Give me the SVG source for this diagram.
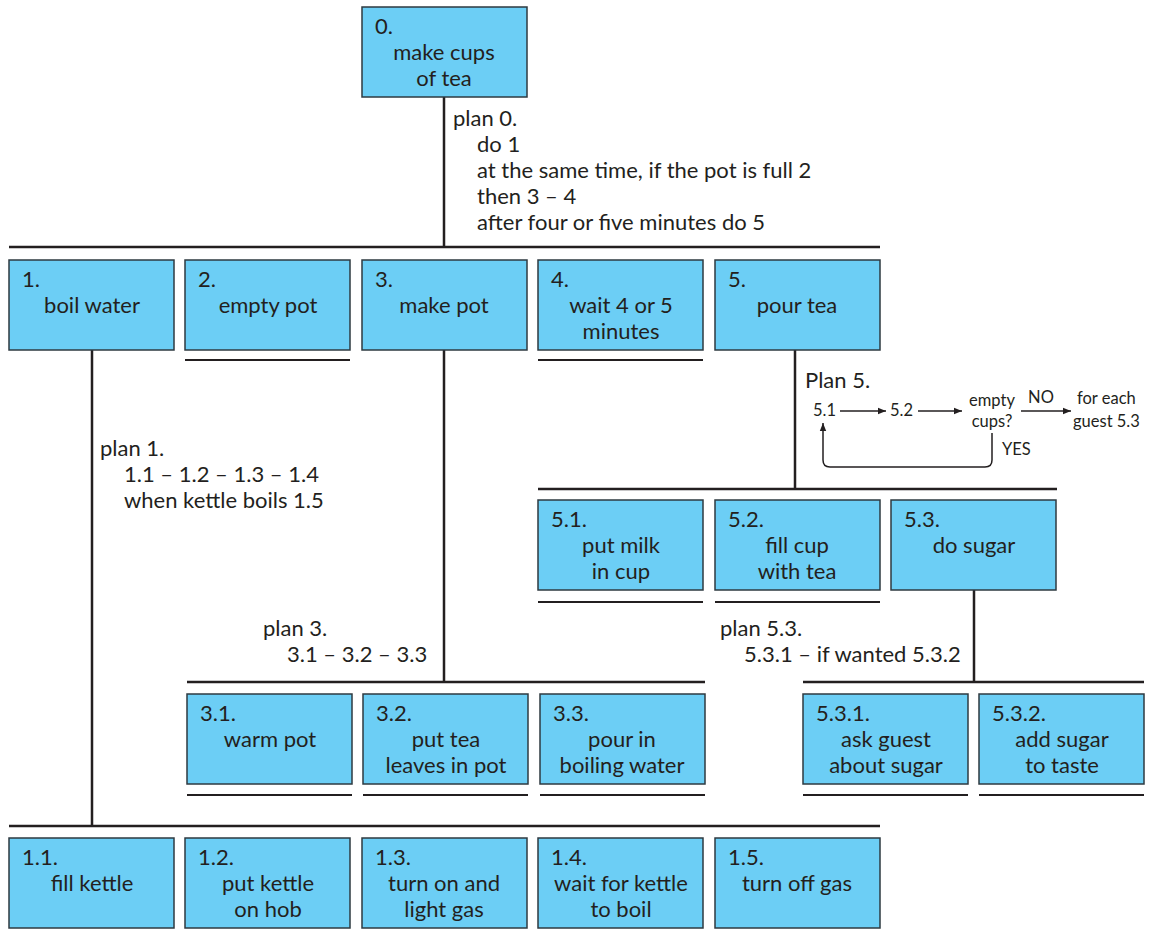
<svg xmlns="http://www.w3.org/2000/svg" width="1153" height="934" viewBox="0 0 1153 934">
<defs>
<style>
.box{fill:#6ccef5;stroke:#2e3a40;stroke-width:1.5}
.t{font-family:Lato,"Liberation Sans",sans-serif;font-size:22px;fill:#231f20}
.c{text-anchor:middle}
.s{font-family:Lato,"Liberation Sans",sans-serif;font-size:16.5px;fill:#231f20}
.bar{stroke:#231f20;stroke-width:2.5;fill:none}
.ul{stroke:#231f20;stroke-width:2;fill:none}
.ln{stroke:#231f20;stroke-width:1.5;fill:none}
</style>
<marker id="ah" viewBox="0 0 10 10" refX="10" refY="5" markerWidth="8" markerHeight="8" markerUnits="userSpaceOnUse" orient="auto"><path d="M0,1 L10,5 L0,9 z" fill="#231f20"/></marker>
</defs>
<rect width="1153" height="934" fill="#fff"/>
<g id="connectors">
<path class="bar" d="M444,97 V247 M9,247 H880"/>
<path class="bar" d="M92,350 V826 M9,826 H880"/>
<path class="bar" d="M444,350 V682 M187,682 H705"/>
<path class="bar" d="M795,350 V489 M538,489 H1057"/>
<path class="bar" d="M974,590 V682 M803,682 H1144"/>
<path class="ul" d="M185,360 H350 M538,360 H703 M538,602 H703 M715,602 H880 M187,795 H352 M363,795 H528 M540,795 H705 M803,795 H968 M979,795 H1144"/>
</g>
<g id="plans">
<text class="t" x="453" y="126">plan 0.</text>
<text class="t" x="477" y="152">do 1</text>
<text class="t" x="477" y="178">at the same time, if the pot is full 2</text>
<text class="t" x="477" y="204">then 3 – 4</text>
<text class="t" x="477" y="230">after four or five minutes do 5</text>
<text class="t" x="100" y="456">plan 1.</text>
<text class="t" x="124" y="482">1.1 – 1.2 – 1.3 – 1.4</text>
<text class="t" x="124" y="508">when kettle boils 1.5</text>
<text class="t" x="263" y="636">plan 3.</text>
<text class="t" x="287" y="662">3.1 – 3.2 – 3.3</text>
<text class="t" x="720" y="636">plan 5.3.</text>
<text class="t" x="744" y="662">5.3.1 – if wanted 5.3.2</text>
<text class="t" x="805" y="388">Plan 5.</text>
<text class="s" x="813" y="416">5.1</text>
<text class="s" x="890" y="416">5.2</text>
<text class="s c" x="992" y="406">empty</text>
<text class="s c" x="992" y="427">cups?</text>
<text class="s c" x="1041" y="403">NO</text>
<text class="s" x="1077" y="404">for each</text>
<text class="s" x="1073" y="427">guest 5.3</text>
<text class="s" x="1002" y="455">YES</text>
<path class="ln" marker-end="url(#ah)" d="M840,411 H886"/>
<path class="ln" marker-end="url(#ah)" d="M918,411 H962"/>
<path class="ln" marker-end="url(#ah)" d="M1021,411 H1071"/>
<path class="ln" marker-end="url(#ah)" d="M992,433 V460 Q992,467 985,467 H830 Q823,467 823,460 V423"/>
</g>
<g id="n0"><rect class="box" x="362" y="7" width="165" height="90"/><text class="t" x="375" y="34">0.</text><text class="t c" x="444" y="60">make cups</text><text class="t c" x="444" y="86">of tea</text></g>
<g id="n1"><rect class="box" x="9" y="260" width="165" height="90"/><text class="t" x="22" y="287">1.</text><text class="t c" x="92" y="313">boil water</text></g>
<g id="n2"><rect class="box" x="185" y="260" width="165" height="90"/><text class="t" x="198" y="287">2.</text><text class="t c" x="268" y="313">empty pot</text></g>
<g id="n3"><rect class="box" x="362" y="260" width="165" height="90"/><text class="t" x="375" y="287">3.</text><text class="t c" x="444" y="313">make pot</text></g>
<g id="n4"><rect class="box" x="538" y="260" width="165" height="90"/><text class="t" x="551" y="287">4.</text><text class="t c" x="621" y="313">wait 4 or 5</text><text class="t c" x="621" y="339">minutes</text></g>
<g id="n5"><rect class="box" x="715" y="260" width="165" height="90"/><text class="t" x="728" y="287">5.</text><text class="t c" x="797" y="313">pour tea</text></g>
<g id="n51"><rect class="box" x="538" y="500" width="165" height="90"/><text class="t" x="551" y="527">5.1.</text><text class="t c" x="621" y="553">put milk</text><text class="t c" x="621" y="579">in cup</text></g>
<g id="n52"><rect class="box" x="715" y="500" width="165" height="90"/><text class="t" x="728" y="527">5.2.</text><text class="t c" x="797" y="553">fill cup</text><text class="t c" x="797" y="579">with tea</text></g>
<g id="n53"><rect class="box" x="891" y="500" width="165" height="90"/><text class="t" x="904" y="527">5.3.</text><text class="t c" x="974" y="553">do sugar</text></g>
<g id="n31"><rect class="box" x="187" y="694" width="165" height="90"/><text class="t" x="200" y="721">3.1.</text><text class="t c" x="270" y="747">warm pot</text></g>
<g id="n32"><rect class="box" x="363" y="694" width="165" height="90"/><text class="t" x="376" y="721">3.2.</text><text class="t c" x="446" y="747">put tea</text><text class="t c" x="446" y="773">leaves in pot</text></g>
<g id="n33"><rect class="box" x="540" y="694" width="165" height="90"/><text class="t" x="553" y="721">3.3.</text><text class="t c" x="622" y="747">pour in</text><text class="t c" x="622" y="773">boiling water</text></g>
<g id="n531"><rect class="box" x="803" y="694" width="165" height="90"/><text class="t" x="816" y="721">5.3.1.</text><text class="t c" x="886" y="747">ask guest</text><text class="t c" x="886" y="773">about sugar</text></g>
<g id="n532"><rect class="box" x="979" y="694" width="165" height="90"/><text class="t" x="992" y="721">5.3.2.</text><text class="t c" x="1062" y="747">add sugar</text><text class="t c" x="1062" y="773">to taste</text></g>
<g id="n11"><rect class="box" x="9" y="838" width="165" height="90"/><text class="t" x="22" y="865">1.1.</text><text class="t c" x="92" y="891">fill kettle</text></g>
<g id="n12"><rect class="box" x="185" y="838" width="165" height="90"/><text class="t" x="198" y="865">1.2.</text><text class="t c" x="268" y="891">put kettle</text><text class="t c" x="268" y="917">on hob</text></g>
<g id="n13"><rect class="box" x="362" y="838" width="165" height="90"/><text class="t" x="375" y="865">1.3.</text><text class="t c" x="444" y="891">turn on and</text><text class="t c" x="444" y="917">light gas</text></g>
<g id="n14"><rect class="box" x="538" y="838" width="165" height="90"/><text class="t" x="551" y="865">1.4.</text><text class="t c" x="621" y="891">wait for kettle</text><text class="t c" x="621" y="917">to boil</text></g>
<g id="n15"><rect class="box" x="715" y="838" width="165" height="90"/><text class="t" x="728" y="865">1.5.</text><text class="t c" x="797" y="891">turn off gas</text></g>
</svg>
